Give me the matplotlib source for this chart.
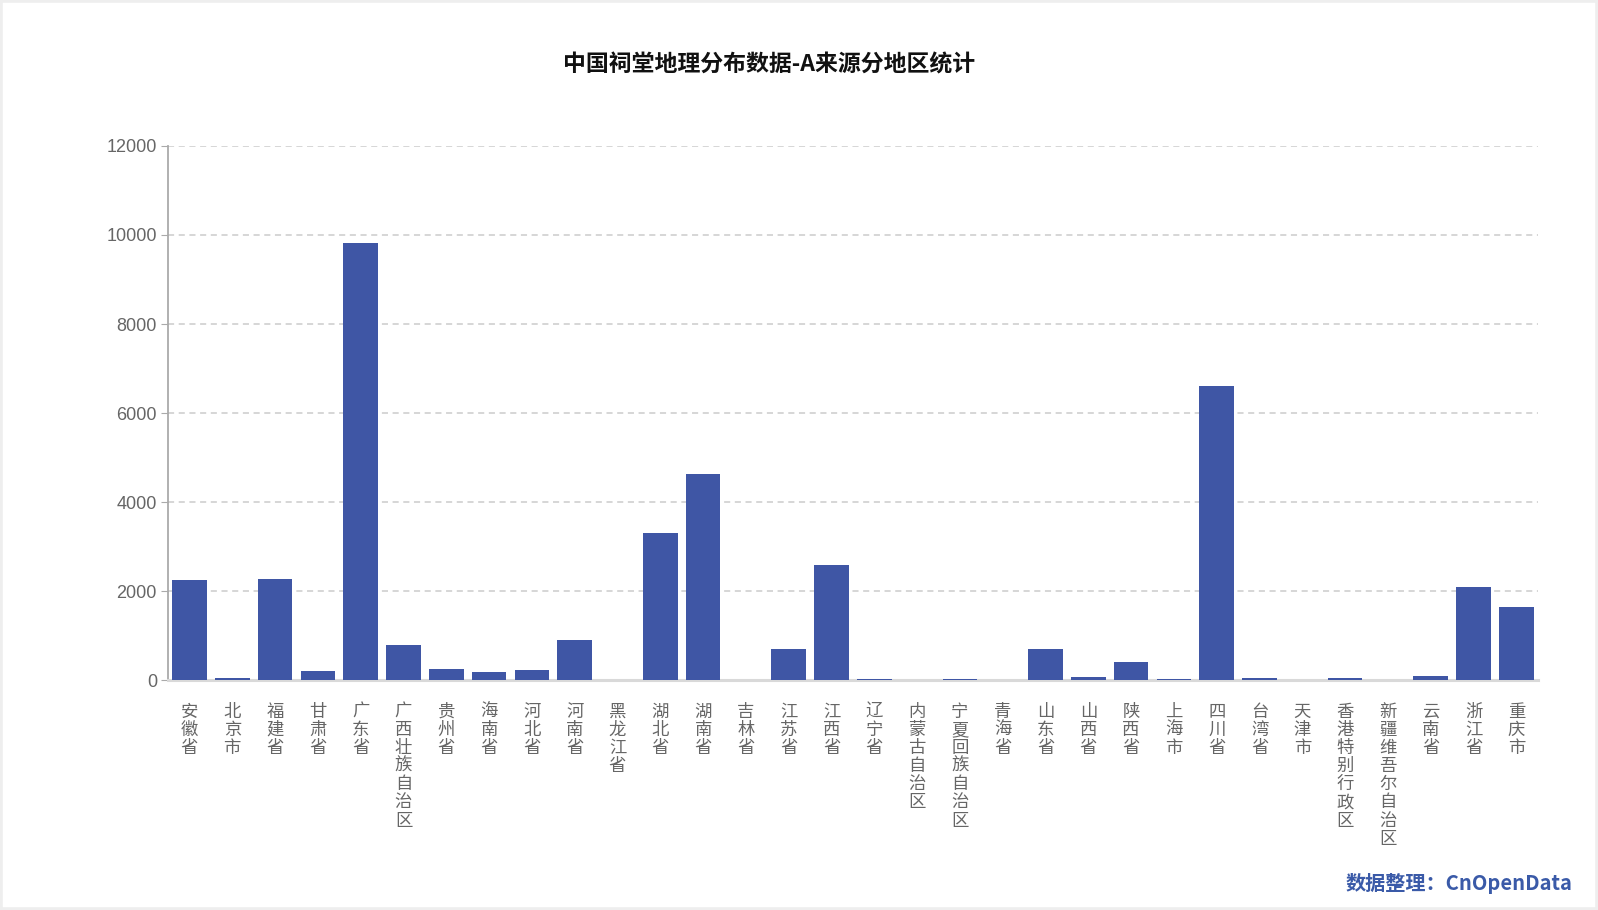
import matplotlib.pyplot as plt
from matplotlib.patches import Rectangle
import numpy as np

plt.rcParams['font.family'] = ['Noto Sans CJK SC', 'DejaVu Sans']

# data
regions = ['安徽省', '北京市', '福建省', '甘肃省', '广东省', '广西壮族自治区', '贵州省', '海南省',
           '河北省', '河南省', '黑龙江省', '湖北省', '湖南省', '吉林省', '江苏省', '江西省',
           '辽宁省', '内蒙古自治区', '宁夏回族自治区', '青海省', '山东省', '山西省', '陕西省',
           '上海市', '四川省', '台湾省', '天津市', '香港特别行政区', '新疆维吾尔自治区', '云南省',
           '浙江省', '重庆市']
counts = [2260, 45, 2270, 205, 9820, 790, 250, 180,
          228, 900, 5, 3320, 4630, 8, 700, 2590,
          25, 3, 25, 3, 702, 68, 405,
          25, 6600, 45, 3, 45, 3, 100,
          2090, 1650]

n = len(regions)
bar_color = '#3f56a5'

fig = plt.figure(figsize=(15.98, 9.10), dpi=100)
fig.patches.append(Rectangle((0, 0), 1, 1, transform=fig.transFigure, fill=False,
                             edgecolor='#eeeeee', linewidth=4))
ax = fig.add_axes([0.1052, 0.2522, 0.8571, 0.5875])

x = np.arange(n)
ax.bar(x, counts, width=0.81, color=bar_color, zorder=3)

ax.set_xlim(-0.5, n - 0.5)
ax.set_ylim(0, 12000)
ax.set_yticks(range(0, 12001, 2000))
ax.yaxis.grid(True, linestyle=(0, (4, 3)), color='#cccccc', linewidth=1.1, zorder=0)

# vertical labels: one character per line
ax.set_xticks(x)
ax.set_xticklabels(['\n'.join(r) for r in regions], fontsize=12.5, color='#666666',
                   va='top', linespacing=1.01)
ax.tick_params(axis='x', length=0, pad=16)
ax.tick_params(axis='y', length=5, color='#aaaaaa', labelcolor='#666666', pad=3)
for lbl in ax.get_yticklabels():
    lbl.set_fontfamily('Liberation Sans')
    lbl.set_fontsize(13)

for side in ['top', 'right']:
    ax.spines[side].set_visible(False)
ax.spines['left'].set_color('#aaaaaa')
ax.spines['left'].set_linewidth(1.3)
ax.spines['bottom'].set_color('#d9d9d9')
ax.spines['bottom'].set_linewidth(2.2)

fig.text(0.4815, 0.929, '中国祠堂地理分布数据-A来源分地区统计', ha='center', va='center',
         fontsize=16.5, fontweight='bold', color='#111111')
fig.text(0.984, 0.029, '数据整理：CnOpenData', ha='right', va='center',
         fontsize=14.5, fontweight='bold', color='#3a5aa8')

fig.savefig('out.png', dpi=100)
